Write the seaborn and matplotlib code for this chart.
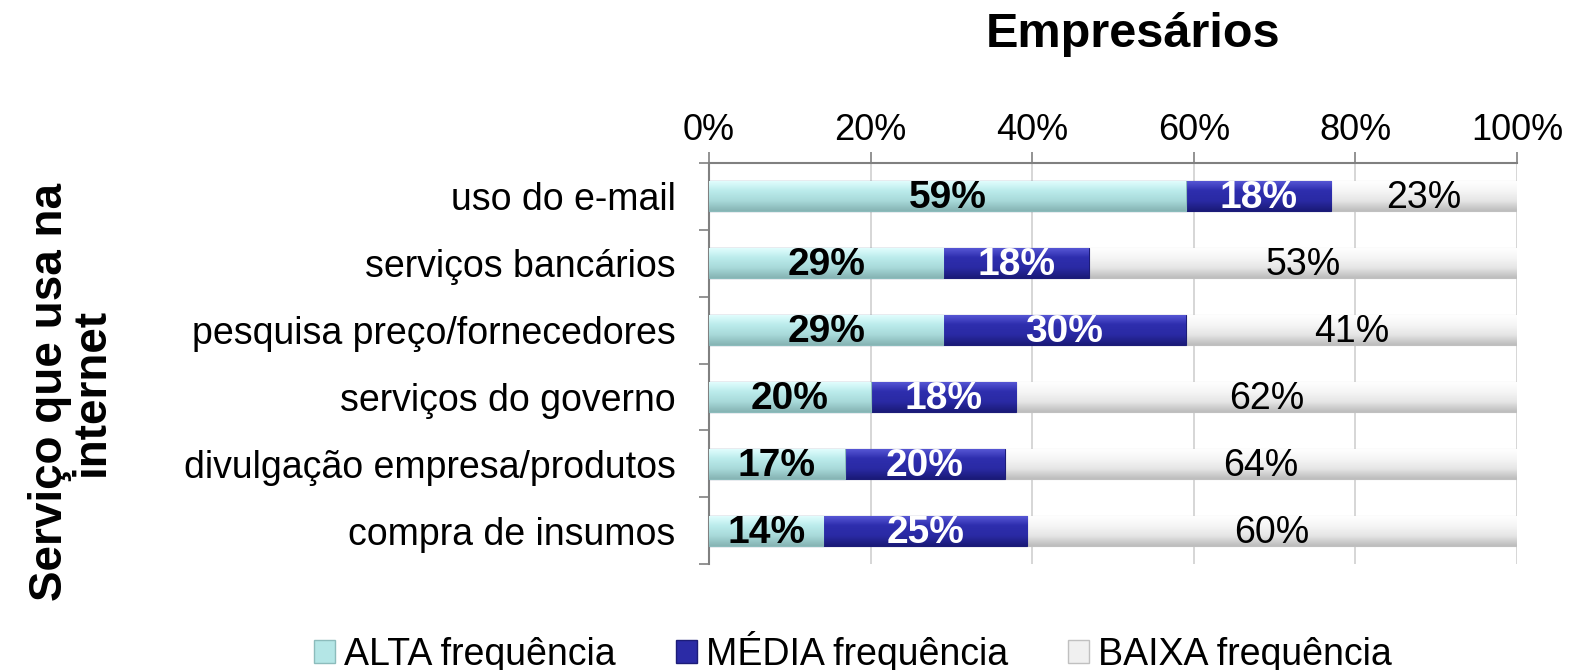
import numpy as np
import pandas as pd
import matplotlib
matplotlib.use("Agg")
import matplotlib.pyplot as plt
from matplotlib.patches import Patch
from matplotlib.colors import LinearSegmentedColormap
import seaborn as sns

categories = ["uso do e-mail", "serviços bancários", "pesquisa preço/fornecedores",
              "serviços do governo", "divulgação empresa/produtos", "compra de insumos"]
alta = [59, 29, 29, 20, 17, 14]
media = [18, 18, 30, 18, 20, 25]
baixa = [23, 53, 41, 62, 64, 60]
series_names = ["ALTA frequência", "MÉDIA frequência", "BAIXA frequência"]
xticks = [0, 20, 40, 60, 80, 100]

sns.set_theme(style="white")
plt.rcParams['font.family'] = ['Liberation Sans', 'DejaVu Sans']
plt.rcParams['text.color'] = 'black'
plt.rcParams['xtick.color'] = 'black'
plt.rcParams['ytick.color'] = 'black'

a = np.array(alta, float); m = np.array(media, float); b = np.array(baixa, float)
tot = a + m + b
ap = a / tot * 100; mp = m / tot * 100; bp = b / tot * 100

df = pd.DataFrame({"cat": categories, "a": ap, "am": ap + mp, "amb": ap + mp + bp})

fig = plt.figure(figsize=(15.71, 6.70), dpi=100)
ax = fig.add_axes([0.4513, 0.1582, 0.5143, 0.5985])

c_alta = "#b4e6e6"; c_media = "#2b2ba6"; c_baixa = "#f0f0f0"
e_alta = "#8cbcbc"; e_media = "#1c1c78"; e_baixa = "#c0c0c0"
grad = {
    "baixa": ["#ffffff", "#f6f6f6", "#e6e6e6", "#bdbdbd"],
    "media": ["#5a5ad8", "#2e2eae", "#2a2aa4", "#1a1a78"],
    "alta": ["#e4ffff", "#bcecec", "#a8dada", "#86b4b4"],
}

sns.barplot(data=df, x="amb", y="cat", color=c_baixa, width=0.45, saturation=1,
            orient="h", ax=ax, edgecolor=e_baixa, linewidth=0.8, zorder=3)
sns.barplot(data=df, x="am", y="cat", color=c_media, width=0.45, saturation=1,
            orient="h", ax=ax, edgecolor=e_media, linewidth=0.8, zorder=4)
sns.barplot(data=df, x="a", y="cat", color=c_alta, width=0.45, saturation=1,
            orient="h", ax=ax, edgecolor=e_alta, linewidth=0.8, zorder=5)

n = len(categories)
layers = ["baixa", "media", "alta"]
patches = list(ax.patches)
for k, p in enumerate(patches):
    layer = layers[k // n]
    cmap = LinearSegmentedColormap.from_list(layer, grad[layer])
    x0, y0, w, h = p.get_x(), p.get_y(), p.get_width(), p.get_height()
    g = np.linspace(0, 1, 64).reshape(-1, 1)
    im = ax.imshow(g, cmap=cmap, aspect="auto", origin="upper",
                   extent=(x0, x0 + w, y0 + h, y0), zorder=p.get_zorder() + 0.1,
                   interpolation="bilinear")
    im.set_clip_path(p)

for i in range(n):
    ax.text(ap[i] / 2, i + 0.03, f"{alta[i]}%", ha="center", va="center", fontsize=28,
            fontweight="bold", color="black", zorder=7)
    ax.text(ap[i] + mp[i] / 2, i + 0.03, f"{media[i]}%", ha="center", va="center", fontsize=28,
            fontweight="bold", color="white", zorder=7)
    ax.text(ap[i] + mp[i] + bp[i] / 2, i + 0.03, f"{baixa[i]}%", ha="center", va="center",
            fontsize=27, color="black", zorder=7)

ax.set_xlim(0, 100)
ax.set_ylim(n - 0.5, -0.5)
ax.set_xticks(xticks)
ax.set_xticklabels([f"{t}%" for t in xticks])
ax.xaxis.tick_top()
ax.tick_params(axis="x", which="both", top=True, bottom=False, length=8, width=1.2,
               color="#808080", labelsize=26, pad=3)
ax.set_yticks(np.arange(n))
ax.set_yticklabels(categories)
ax.set_yticks(np.arange(n + 1) - 0.5, minor=True)
ax.tick_params(axis="y", which="major", length=0, labelsize=27, pad=24)
ax.tick_params(axis="y", which="minor", left=True, length=7, width=1.2, color="#808080")
ax.set_xlabel(""); ax.set_ylabel("")
ax.grid(axis="x", color="#d0d0d0", linewidth=1.2, zorder=0)
ax.set_axisbelow(True)
for s in ["right", "bottom"]:
    ax.spines[s].set_visible(False)
for s in ["top", "left"]:
    ax.spines[s].set_color("#808080")
    ax.spines[s].set_linewidth(1.5)

fig.text(0.721, 0.948, "Empresários", ha="center", va="center", fontsize=35, fontweight="bold")
fig.text(0.045, 0.415, "Serviço que usa na\ninternet", ha="center", va="center", rotation=90,
         fontsize=33, fontweight="bold", linespacing=0.95)

handles = [Patch(facecolor=c_alta, edgecolor=e_alta),
           Patch(facecolor=c_media, edgecolor=e_media),
           Patch(facecolor=c_baixa, edgecolor=e_baixa)]
fig.legend(handles, series_names, loc="center", bbox_to_anchor=(0.543, 0.027), ncol=3,
           frameon=False, fontsize=27, handlelength=0.55, handleheight=0.55,
           handletextpad=0.25, columnspacing=1.6, borderpad=0)

fig.savefig("out.png", dpi=100)
